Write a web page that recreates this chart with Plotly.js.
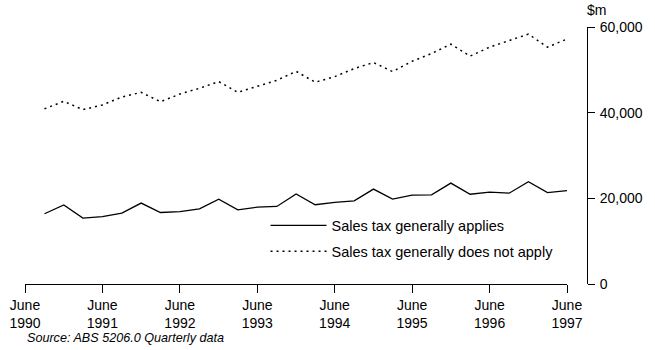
<!DOCTYPE html>
<html>
<head>
<meta charset="utf-8">
<script src="https://cdn.plot.ly/plotly-3.0.1.min.js"></script>
<style>html,body{margin:0;padding:0;background:#fff;}#chart{width:655px;height:350px;}</style>
</head>
<body>
<div id="chart"></div>
<script>
// Quarterly periods (Sep 1990 .. Jun 1997)
const quarters = [
  '1990-09-01','1990-12-01','1991-03-01','1991-06-01',
  '1991-09-01','1991-12-01','1992-03-01','1992-06-01',
  '1992-09-01','1992-12-01','1993-03-01','1993-06-01',
  '1993-09-01','1993-12-01','1994-03-01','1994-06-01',
  '1994-09-01','1994-12-01','1995-03-01','1995-06-01',
  '1995-09-01','1995-12-01','1996-03-01','1996-06-01',
  '1996-09-01','1996-12-01','1997-03-01','1997-06-01'
];
// $m
const salesTaxApplies = [
  16400, 18450, 15400, 15750, 16550, 18900, 16700, 16900,
  17550, 19800, 17300, 17950, 18100, 21000, 18500, 19050,
  19400, 22150, 19800, 20750, 20800, 23550, 20950, 21450,
  21200, 23900, 21350, 21800
];
const salesTaxNotApply = [
  40900, 42650, 40700, 41800, 43650, 44750, 42550, 44350,
  45700, 47250, 44750, 46150, 47550, 49650, 47100, 48400,
  50300, 51700, 49600, 52000, 53800, 56000, 53200, 55300,
  56850, 58350, 55300, 57200
];
const seriesNames = ['Sales tax generally applies', 'Sales tax generally does not apply'];
const xTickVals = ['1990-06-01','1991-06-01','1992-06-01','1993-06-01','1994-06-01','1995-06-01','1996-06-01','1997-06-01'];
const xTickText = ['June<br>1990','June<br>1991','June<br>1992','June<br>1993','June<br>1994','June<br>1995','June<br>1996','June<br>1997'];
const yTickVals = [0, 20000, 40000, 60000];
const yTickText = ['0', '20,000', '40,000', '60,000'];
const unitLabel = '$m';
const sourceText = 'Source: ABS 5206.0 Quarterly data';

const FONT = 'Liberation Sans, Arial, sans-serif';

const traces = [
  {
    x: quarters, y: salesTaxApplies, name: seriesNames[0], type: 'scatter', mode: 'lines',
    line: {color: '#000', width: 1.3}, legendgroup: 'a'
  },
  {
    x: quarters, y: salesTaxNotApply, name: seriesNames[1], type: 'scatter', mode: 'lines',
    line: {color: '#000', width: 1.5, dash: '2px,4px'}, legendgroup: 'b'
  }
];

const layout = {
  width: 655, height: 350,
  margin: {l: 25, r: 68, t: 27, b: 66},
  paper_bgcolor: '#fff', plot_bgcolor: '#fff',
  font: {family: FONT, color: '#000', size: 14},
  showlegend: true,
  legend: {
    x: 0.428, y: 0.29, xanchor: 'left', yanchor: 'top',
    bgcolor: 'rgba(0,0,0,0)', borderwidth: 0,
    font: {family: FONT, size: 14.5, color: '#000'},
    traceorder: 'grouped', tracegroupgap: 4, itemwidth: 56
  },
  xaxis: {
    type: 'date', domain: [0, 542/562],
    range: ['1990-06-01', '1997-06-01'],
    tickmode: 'array', tickvals: xTickVals, ticktext: xTickText,
    showgrid: false, zeroline: false, showline: true,
    linecolor: '#000', linewidth: 1, ticks: 'outside', ticklen: 8, tickcolor: '#000', tickwidth: 1,
    tickfont: {family: FONT, size: 14, color: '#000'}, fixedrange: true
  },
  yaxis: {
    range: [0, 60000], anchor: 'free', position: 1, side: 'right',
    tickmode: 'array', tickvals: yTickVals, ticktext: yTickText,
    showgrid: false, zeroline: false, showline: true,
    linecolor: '#000', linewidth: 1, ticks: 'outside', ticklen: 7, tickcolor: '#000', tickwidth: 1,
    ticklabelstandoff: 2,
    tickfont: {family: FONT, size: 14, color: '#000'}, fixedrange: true
  },
  annotations: [
    {
      text: unitLabel, xref: 'paper', yref: 'paper', x: 1, y: (284 - 10) / 257,
      xanchor: 'left', yanchor: 'middle', showarrow: false, xshift: -2,
      font: {family: FONT, size: 14, color: '#000'}
    },
    {
      text: '<i>' + sourceText + '</i>', xref: 'paper', yref: 'paper', x: 0, y: (284 - 338) / 257,
      xanchor: 'left', yanchor: 'middle', showarrow: false,
      font: {family: FONT, size: 12.6, color: '#000'}
    }
  ]
};

Plotly.newPlot('chart', traces, layout, {displayModeBar: false, staticPlot: true});
</script>
</body>
</html>
